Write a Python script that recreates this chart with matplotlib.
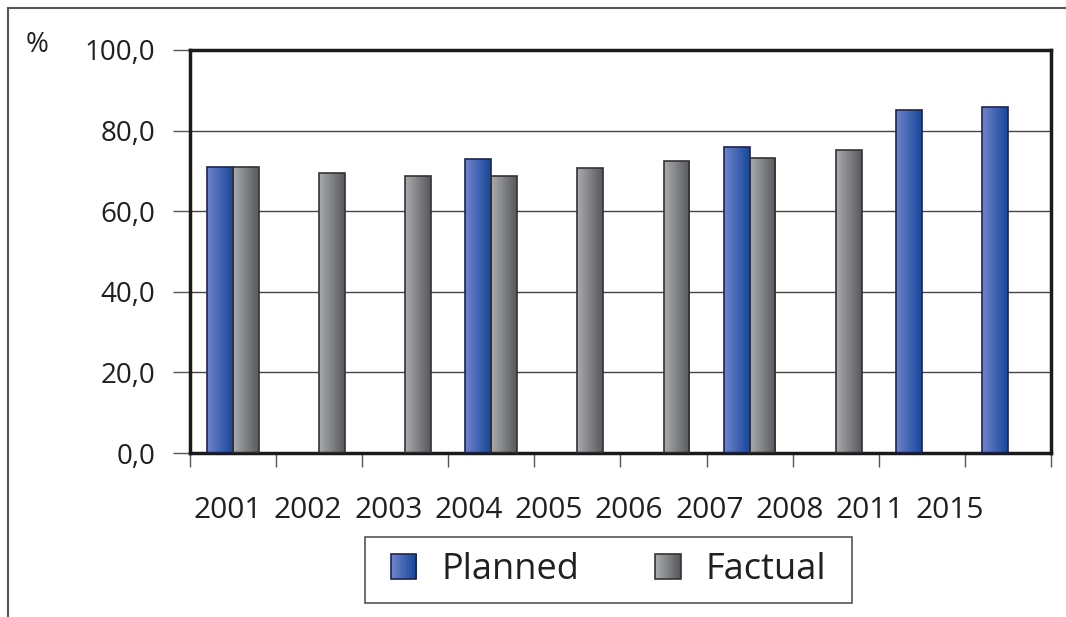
import numpy as np
import matplotlib
matplotlib.use('Agg')
import matplotlib.pyplot as plt
from matplotlib.colors import LinearSegmentedColormap, to_rgb
from matplotlib.lines import Line2D
from matplotlib.patches import Rectangle
from matplotlib.legend_handler import HandlerBase
from matplotlib.ticker import FuncFormatter

plt.rcParams['font.family'] = ['Open Sans', 'DejaVu Sans']

# data
years = ['2001', '2002', '2003', '2004', '2005', '2006', '2007', '2008', '2011', '2015']
planned = [71.0, np.nan, np.nan, 73.0, np.nan, np.nan, 76.0, np.nan, 85.1, 85.9]
factual = [71.0, 69.5, 68.7, 68.7, 70.7, 72.5, 73.2, 75.2, np.nan, np.nan]

blue_grad = ['#6f84cc', '#18479a']
gray_grad = ['#a9abaf', '#58595c']
blue_edge = '#1c2450'
gray_edge = '#333333'


def gradient_bars(ax, bars, colors, edge):
    cmap = LinearSegmentedColormap.from_list('g', colors)
    grad = np.linspace(0, 1, 64).reshape(1, -1)
    for b in bars:
        h = b.get_height()
        if np.isnan(h) or h == 0:
            continue
        x0 = b.get_x()
        x1 = x0 + b.get_width()
        im = ax.imshow(grad, extent=[x0, x1, 0, h], aspect='auto', cmap=cmap,
                       interpolation='bicubic', zorder=2)
        im.set_clip_path(b)
        b.set_edgecolor(edge)
        b.set_zorder(3)


class GradientHandler(HandlerBase):
    def __init__(self, colors, edge):
        super().__init__()
        self.colors = colors
        self.edge = edge

    def create_artists(self, legend, orig_handle, xdescent, ydescent,
                       width, height, fontsize, trans):
        c0 = np.array(to_rgb(self.colors[0]))
        c1 = np.array(to_rgb(self.colors[1]))
        n = 20
        arts = []
        for k in range(n):
            t = k / (n - 1)
            r = Rectangle((-xdescent + width * k / n, -ydescent), width / n + 0.3, height,
                          facecolor=c0 * (1 - t) + c1 * t, edgecolor='none', transform=trans)
            arts.append(r)
        arts.append(Rectangle((-xdescent, -ydescent), width, height, facecolor='none',
                              edgecolor=self.edge, lw=1.2, transform=trans))
        return arts


fig = plt.figure(figsize=(10.66, 6.17), dpi=100)
ax = fig.add_axes([0.1782, 0.2658, 0.8077, 0.6532])

x = np.arange(len(years)) + 0.5
w = 0.3
b1 = ax.bar(x - w / 2, planned, w, facecolor='none', lw=1.2)
b2 = ax.bar(x + w / 2, factual, w, facecolor='none', lw=1.2)
gradient_bars(ax, b1, blue_grad, blue_edge)
gradient_bars(ax, b2, gray_grad, gray_edge)

ax.set_xlim(0, len(years))
ax.set_ylim(0, 100)
ax.set_yticks(np.arange(0, 101, 20))
ax.yaxis.set_major_formatter(FuncFormatter(lambda v, p: f'{v:.1f}'.replace('.', ',')))
ax.tick_params(axis='y', length=12, width=1, color='#555555', pad=13, labelsize=20,
               labelcolor='#231f20')
for yv in range(20, 100, 20):
    ax.axhline(yv, color='#444444', lw=1, zorder=1)

# group boundaries as ticks, year labels slightly shifted as in the original
ax.set_xticks(np.arange(0, len(years) + 1))
ax.set_xticklabels([])
ax.tick_params(axis='x', which='major', length=10, width=1, color='#555555')
ax.set_xticks(0.44 + 0.932 * np.arange(len(years)), minor=True)
ax.set_xticklabels(years, minor=True)
ax.tick_params(axis='x', which='minor', length=0, pad=31, labelsize=21.5, labelcolor='#231f20')

for s in ax.spines.values():
    s.set_linewidth(2.5)
    s.set_color('#1a1a1a')

fig.text(0.035, 0.927, '%', fontsize=20, color='#231f20', ha='center', va='center')

# outer frame (top and left only)
fig.add_artist(Line2D([0.0075, 1.0], [0.987, 0.987], color='#555555', lw=1.5))
fig.add_artist(Line2D([0.0075, 0.0075], [0.0, 0.987], color='#555555', lw=1.5))

h1 = Rectangle((0, 0), 1, 1)
h2 = Rectangle((0, 0), 1, 1)
leg = fig.legend([h1, h2], ['Planned', 'Factual'], loc='center',
                 bbox_to_anchor=(0.571, 0.0762), ncol=2, fontsize=26,
                 handler_map={h1: GradientHandler(blue_grad, blue_edge),
                              h2: GradientHandler(gray_grad, gray_edge)},
                 handlelength=0.7, handleheight=0.7, handletextpad=0.7,
                 columnspacing=2.1, borderpad=0.35, frameon=False)
for t in leg.get_texts():
    t.set_color('#231f20')
# legend box as in the original, wider than the entries
fig.add_artist(Rectangle((365 / 1066, 14 / 617), 487 / 1066, 66 / 617,
                         transform=fig.transFigure, facecolor='none',
                         edgecolor='#555555', lw=1.2))

fig.savefig('out.png', dpi=100)
